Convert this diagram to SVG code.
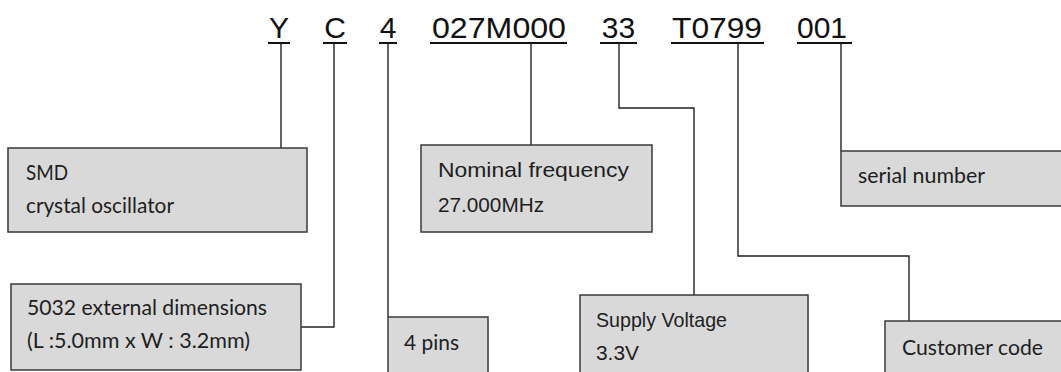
<svg xmlns="http://www.w3.org/2000/svg" width="1061" height="372" viewBox="0 0 1061 372">
<style>
.code{font-family:"Liberation Sans",Arial,sans-serif;font-size:30px;fill:#111;text-anchor:middle}
.ul{stroke:#111;stroke-width:2}
.box{fill:#d9d9d9;stroke:#3a3a3a;stroke-width:1.5}
.cal{font-family:Lato,"Noto Sans",sans-serif;font-size:21px;fill:#1e1e1e}
.ari{font-family:"Liberation Sans",Arial,sans-serif;font-size:21px;fill:#1e1e1e}
.con{fill:none;stroke:#222;stroke-width:1.4}
</style>
<rect width="1061" height="372" fill="#fff"/>
<g id="code">
<text class="code" x="279" y="38">Y</text>
<text class="code" x="335" y="38">C</text>
<text class="code" x="388" y="38">4</text>
<text class="code" x="499" y="38" textLength="134" lengthAdjust="spacingAndGlyphs">027M000</text>
<text class="code" x="618.5" y="38">33</text>
<text class="code" x="717" y="38" textLength="90" lengthAdjust="spacingAndGlyphs">T0799</text>
<text class="code" x="822" y="38">001</text>
<line class="ul" x1="268" y1="43" x2="290" y2="43"/>
<line class="ul" x1="323" y1="43" x2="347" y2="43"/>
<line class="ul" x1="379" y1="43" x2="397" y2="43"/>
<line class="ul" x1="430" y1="43" x2="567" y2="43"/>
<line class="ul" x1="600" y1="43" x2="637" y2="43"/>
<line class="ul" x1="671" y1="43" x2="764" y2="43"/>
<line class="ul" x1="797" y1="43" x2="852" y2="43"/>
</g>
<g id="connectors">
<polyline class="con" points="281,44 281,148"/>
<polyline class="con" points="334,44 334,327 301,327"/>
<polyline class="con" points="388,44 388,317"/>
<polyline class="con" points="531,44 531,145"/>
<polyline class="con" points="619,44 619,108 694,108 694,295"/>
<polyline class="con" points="738,44 738,256 909,256 909,321"/>
<polyline class="con" points="841,44 841,151"/>
</g>
<g id="smd">
<rect class="box" x="8" y="148" width="299" height="84"/>
<text class="cal" x="26" y="180" textLength="42" lengthAdjust="spacingAndGlyphs">SMD</text>
<text class="cal" x="26" y="213" textLength="148" lengthAdjust="spacingAndGlyphs">crystal oscillator</text>
</g>
<g id="dimensions">
<rect class="box" x="11" y="284" width="290" height="86"/>
<text class="cal" x="27" y="315" textLength="240" lengthAdjust="spacingAndGlyphs">5032 external dimensions</text>
<text class="cal" x="27" y="348" textLength="223" lengthAdjust="spacingAndGlyphs">(L :5.0mm x W : 3.2mm)</text>
</g>
<g id="frequency">
<rect class="box" x="421" y="145" width="231" height="87"/>
<text class="ari" x="438" y="177" textLength="191" lengthAdjust="spacingAndGlyphs">Nominal frequency</text>
<text class="ari" x="438" y="212" textLength="106" lengthAdjust="spacingAndGlyphs">27.000MHz</text>
</g>
<g id="pins">
<rect class="box" x="388" y="317" width="100" height="60"/>
<text class="cal" x="404" y="350" textLength="55" lengthAdjust="spacingAndGlyphs">4 pins</text>
</g>
<g id="voltage">
<rect class="box" x="580" y="295" width="228" height="82"/>
<text class="ari" x="596" y="327" font-size="19" textLength="131" lengthAdjust="spacingAndGlyphs">Supply Voltage</text>
<text class="ari" x="596" y="360" font-size="19" textLength="43" lengthAdjust="spacingAndGlyphs">3.3V</text>
</g>
<g id="serial">
<rect class="box" x="841" y="151" width="225" height="55"/>
<text class="cal" x="858" y="183" textLength="127" lengthAdjust="spacingAndGlyphs">serial number</text>
</g>
<g id="customer">
<rect class="box" x="885" y="321" width="180" height="56"/>
<text class="cal" x="902" y="355" textLength="141" lengthAdjust="spacingAndGlyphs">Customer code</text>
</g>
</svg>
